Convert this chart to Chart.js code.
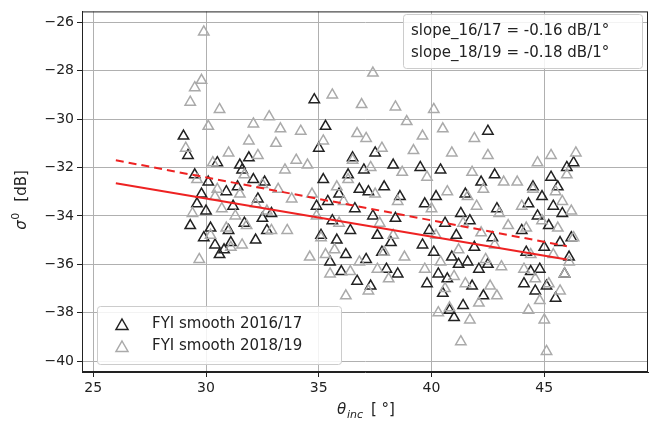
<!DOCTYPE html>
<html>
<head>
<meta charset="utf-8">
<script src="https://cdn.jsdelivr.net/npm/chart.js@4"></script>
<style>
  body { margin: 0; background: #fff; }
  #wrap { width: 663px; height: 424px; }
</style>
</head>
<body>
<div id="wrap"><canvas id="chart"></canvas></div>
<script>
// ========================================
// Backscatter vs incidence angle (FYI smooth)
// ========================================

// 2016/17 season
const x1617 = [29,29.2,29.5,29.8,30,30.2,30.4,30.6,30.8,31,31.2,31.4,31.6,31.9,32.1,32.3,32.5,32.7,32.9,29.3,29.6,30.1,30.5,31.1,31.7,32.2,30.9,29.9,31.5,32.6,
  34.8,35,35.2,35.4,35.6,35.8,36,36.2,36.4,36.6,36.8,37,37.2,37.4,37.6,37.8,38,38.2,38.4,38.6,35.1,35.5,35.9,36.3,36.7,37.1,37.5,37.9,38.3,34.9,35.3,36.5,37.3,38.5,
  39.5,39.7,39.9,40.1,40.3,40.5,40.7,40.9,41.1,41.3,41.5,41.7,41.9,42.1,42.3,42.5,42.7,42.9,42.5,40.2,40.6,41,41.4,41.8,42.2,39.8,40.4,41.6,42.8,40.8,41.2,39.6,
  44,44.2,44.4,44.6,44.8,45,45.2,45.4,45.6,45.8,46,46.2,44.3,44.7,45.1,45.5,45.9,46.1,44.5,45.3,45.7,44.9,46.3,44.1];
const y1617 = [-30.7,-31.5,-32.3,-33.1,-33.8,-34.5,-35.2,-35.6,-35.4,-34.6,-33.6,-32.8,-32.1,-31.6,-32.5,-33.3,-34.1,-34.6,-33.9,-34.4,-33.5,-32.6,-31.8,-35.1,-34.3,-35.0,-33.0,-34.9,-31.9,-32.6,
  -29.2,-31.2,-32.5,-33.4,-34.2,-35.0,-36.3,-35.6,-34.6,-33.7,-32.9,-32.1,-33.0,-34.0,-34.8,-35.5,-36.2,-35.1,-34.1,-33.2,-34.8,-35.9,-33.1,-32.3,-36.7,-35.8,-31.4,-32.8,-31.9,-33.6,-30.3,-31.6,-36.9,-36.4,
  -32.0,-33.5,-34.6,-35.5,-36.4,-37.2,-36.6,-35.7,-34.8,-33.9,-33.1,-34.2,-35.3,-36.2,-37.3,-36.0,-34.9,-33.7,-30.5,-33.2,-34.3,-38.2,-37.7,-36.9,-32.6,-36.8,-32.1,-35.9,-32.3,-37.9,-36.0,-35.2,
  -34.6,-35.5,-36.3,-37.1,-36.2,-35.3,-34.4,-33.6,-32.8,-33.9,-32.0,-34.9,-33.5,-34.0,-36.9,-37.4,-36.4,-35.7,-32.8,-32.4,-35.1,-33.2,-31.8,-36.8];

// 2018/19 season
const x1819 = [29.1,29.3,29.5,29.8,29.9,30.1,30.3,30.5,30.7,30.9,31.1,31.3,31.5,31.7,31.9,32.1,32.3,32.5,32.7,32.9,33.1,33.3,33.5,33.8,34,29.4,29.7,30.2,30.6,31,31.6,32.2,32.8,33.6,30.4,29.6,31.8,33.2,
  34.2,34.5,34.7,34.9,35.1,35.3,35.5,35.7,35.9,36.1,36.3,36.5,36.7,36.9,37.1,37.3,37.5,37.7,37.9,38.1,38.3,38.5,38.7,38.9,37.4,35.6,36.2,37.2,34.6,36.8,38.4,35.2,37.8,36.4,35.8,37.6,39.2,38.8,
  39.6,39.8,40,40.2,40.4,40.6,40.8,41,41.2,41.4,41.6,41.8,42,42.2,42.4,42.6,42.8,43,43.2,43.4,40.1,40.5,41.3,41.7,42.1,42.5,40.3,40.9,41.9,42.9,43.1,39.7,40.7,41.5,42.3,
  43.8,44,44.2,44.4,44.6,44.8,45,45.2,45.4,45.6,45.8,46,46.2,46.4,45.1,44.3,44.7,45.3,45.7,46.1,44.1,44.5,44.9,45.5,45.9,46.3];
const y1819 = [-31.2,-29.3,-28.7,-28.4,-26.4,-30.3,-31.8,-32.9,-33.7,-34.5,-35.3,-34.0,-33.1,-32.3,-30.9,-30.2,-31.5,-32.7,-33.8,-34.6,-31.0,-30.4,-32.1,-33.3,-31.7,-33.9,-35.8,-34.8,-29.6,-31.4,-35.2,-33.5,-29.9,-34.6,-33.2,-32.5,-34.4,-32.9,
  -30.5,-31.9,-33.1,-34.0,-34.9,-35.6,-36.4,-35.4,-34.3,-33.4,-32.5,-31.7,-30.6,-29.4,-30.8,-32.0,-33.1,-34.3,-35.5,-36.6,-34.8,-33.4,-32.2,-30.1,-28.1,-29.0,-37.3,-37.1,-35.7,-35.9,-29.5,-30.9,-31.2,-36.3,-32.8,-36.2,-31.3,-35.7,
  -30.7,-32.4,-33.7,-34.8,-35.9,-37.0,-37.8,-36.5,-35.4,-34.3,-33.2,-32.2,-33.6,-34.7,-35.8,-36.9,-35.2,-33.9,-32.6,-34.4,-29.6,-30.4,-39.2,-38.3,-37.6,-31.5,-38.0,-31.4,-30.8,-37.3,-36.1,-36.2,-33.0,-36.8,-32.9,
  -32.6,-33.6,-34.5,-35.6,-36.6,-37.5,-38.3,-36.8,-35.6,-34.5,-33.4,-32.3,-33.8,-31.4,-39.6,-37.9,-31.8,-31.5,-37.1,-35.9,-36.2,-32.9,-34.2,-33.0,-36.4,-34.9];

// fitted trend lines (endpoints)
const fitX = [26, 46];
const fit1617 = [-32.65, -35.8];
const fit1819 = [-31.7, -35.25];

const legendLabels = ['FYI smooth 2016/17', 'FYI smooth 2018/19'];
const slopeLabels = ['slope_16/17 = -0.16 dB/1\u00B0', 'slope_18/19 = -0.18 dB/1\u00B0'];
const xTicks = [25, 30, 35, 40, 45];
const yTicks = [-40, -38, -36, -34, -32, -30, -28, -26];

const pts = (xs, ys) => xs.map((x, i) => ({ x: x, y: ys[i] }));

function drawTri(ctx, x, y, color) {
  ctx.save();
  ctx.strokeStyle = color;
  ctx.lineWidth = 1.5;
  ctx.beginPath();
  ctx.moveTo(x, y - 6);
  ctx.lineTo(x + 6, y + 4.5);
  ctx.lineTo(x - 6, y + 4.5);
  ctx.closePath();
  ctx.stroke();
  ctx.restore();
}

// frame, titles, legend and slope box
const overlay = {
  id: 'overlay',
  afterDraw(chart) {
    const ctx = chart.ctx;
    const a = chart.chartArea;
    ctx.save();

    // full axes frame
    ctx.strokeStyle = '#222';
    ctx.lineWidth = 1;
    ctx.strokeRect(a.left + 0.5, a.top + 0.5, a.right - a.left - 1, a.bottom - a.top - 1);

    ctx.fillStyle = '#222';
    ctx.textBaseline = 'middle';

    // x title: theta_inc [deg]
    ctx.font = 'italic 15px "DejaVu Sans"';
    const cx = (a.left + a.right) / 2 - 28;
    const ty = 410;
    ctx.textAlign = 'left';
    ctx.fillText('\u03B8', cx, ty);
    ctx.font = 'italic 11px "DejaVu Sans"';
    ctx.fillText('inc', cx + 10, ty + 5);
    ctx.font = '15px "DejaVu Sans"';
    ctx.fillText('[ \u00B0]', cx + 34, ty);

    // y title: sigma^0 [dB]
    ctx.save();
    ctx.translate(22, (a.top + a.bottom) / 2);
    ctx.rotate(-Math.PI / 2);
    ctx.font = 'italic 15px "DejaVu Sans"';
    ctx.fillText('\u03C3', -38, 0);
    ctx.font = '11px "DejaVu Sans"';
    ctx.fillText('0', -28, -6);
    ctx.font = '15px "DejaVu Sans"';
    ctx.fillText('[dB]', -10, 0);
    ctx.restore();

    // slope box
    ctx.fillStyle = 'rgba(255,255,255,0.85)';
    ctx.strokeStyle = '#cccccc';
    ctx.beginPath();
    ctx.roundRect(403.5, 14.5, 239, 54, 3);
    ctx.fill();
    ctx.stroke();
    ctx.fillStyle = '#222';
    ctx.font = '15px "DejaVu Sans"';
    ctx.fillText(slopeLabels[0], 411, 31);
    ctx.fillText(slopeLabels[1], 411, 53);

    // legend box
    ctx.fillStyle = 'rgba(255,255,255,0.85)';
    ctx.beginPath();
    ctx.roundRect(97.5, 306.5, 244, 58, 3);
    ctx.fill();
    ctx.stroke();
    drawTri(ctx, 122, 325, '#222');
    drawTri(ctx, 122, 347, '#aaa');
    ctx.fillStyle = '#222';
    ctx.fillText(legendLabels[0], 152, 324);
    ctx.fillText(legendLabels[1], 152, 346);
    ctx.restore();
  }
};

const ctx = document.getElementById('chart');
new Chart(ctx, {
  data: {
    datasets: [
      {
        type: 'scatter',
        data: pts(x1617, y1617),
        pointStyle: 'triangle',
        pointRadius: 6,
        borderColor: '#222',
        backgroundColor: 'rgba(0,0,0,0)',
        borderWidth: 1.5,
        order: 3
      },
      {
        type: 'scatter',
        data: pts(x1819, y1819),
        pointStyle: 'triangle',
        pointRadius: 6,
        borderColor: '#aaa',
        backgroundColor: 'rgba(0,0,0,0)',
        borderWidth: 1.5,
        order: 2
      },
      {
        type: 'line',
        data: pts(fitX, fit1617),
        borderColor: '#ee2222',
        borderWidth: 2,
        pointRadius: 0,
        order: 1
      },
      {
        type: 'line',
        data: pts(fitX, fit1819),
        borderColor: '#ee2222',
        borderWidth: 2,
        borderDash: [8, 5],
        pointRadius: 0,
        order: 0
      }
    ]
  },
  options: {
    responsive: true,
    maintainAspectRatio: false,
    animation: false,
    layout: { padding: { top: 8, right: 15 } },
    plugins: { legend: { display: false }, tooltip: { enabled: false } },
    scales: {
      x: {
        type: 'linear',
        min: 24.5,
        max: 49.6,
        afterBuildTicks: s => { s.ticks = xTicks.map(v => ({ value: v })); },
        afterFit: s => { s.height = 52; },
        grid: { color: '#b0b0b0', tickColor: '#222', tickLength: 5 },
        border: { color: '#222' },
        ticks: { color: '#222', font: { family: 'DejaVu Sans', size: 14 }, padding: 3 }
      },
      y: {
        min: -40.45,
        max: -25.55,
        afterBuildTicks: s => { s.ticks = yTicks.map(v => ({ value: v })); },
        afterFit: s => { s.width = 82; },
        grid: { color: '#b0b0b0', tickColor: '#222', tickLength: 5 },
        border: { color: '#222' },
        ticks: {
          color: '#222',
          font: { family: 'DejaVu Sans', size: 14 },
          padding: 3,
          callback: v => (v < 0 ? '\u2212' + Math.abs(v) : v)
        }
      }
    }
  },
  plugins: [overlay]
});
</script>
</body>
</html>
